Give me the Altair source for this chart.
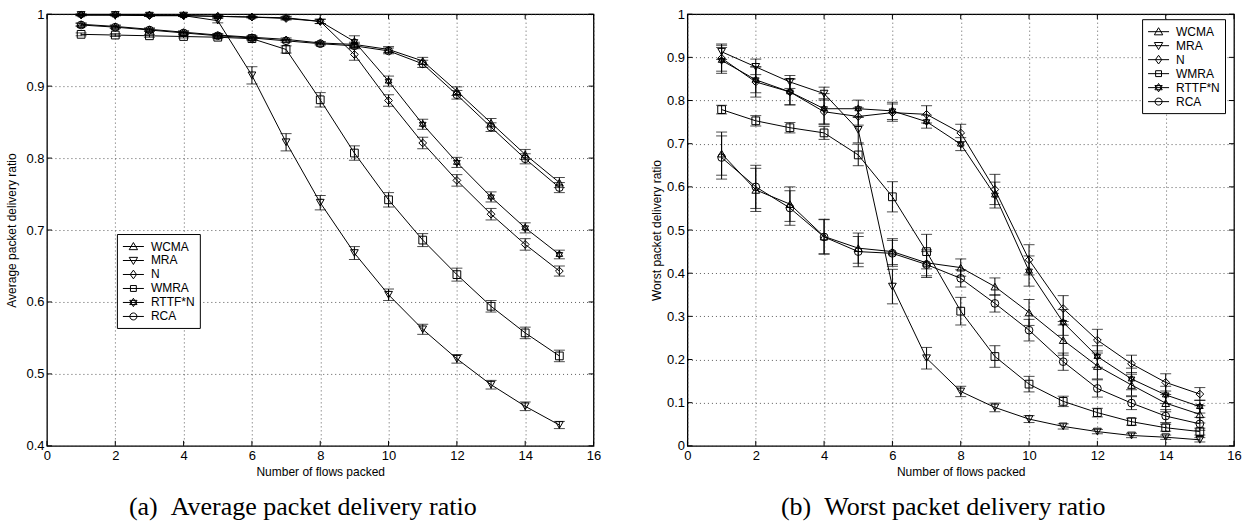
import altair as alt
import pandas as pd

flows = list(range(1, 16))
series_names = ["WCMA", "MRA", "N", "WMRA", "RTTF*N", "RCA"]

# (a) Average packet delivery ratio
avg_wcma = [0.986, 0.983, 0.979, 0.975, 0.971, 0.968, 0.965, 0.960, 0.958, 0.951, 0.935, 0.893, 0.849, 0.805, 0.766]
avg_mra = [0.999, 0.999, 0.998, 0.998, 0.991, 0.915, 0.822, 0.738, 0.668, 0.610, 0.562, 0.521, 0.485, 0.455, 0.429]
avg_n = [0.999, 0.999, 0.998, 0.998, 0.997, 0.996, 0.994, 0.990, 0.944, 0.880, 0.821, 0.769, 0.722, 0.680, 0.643]
avg_wmra = [0.972, 0.971, 0.970, 0.969, 0.968, 0.966, 0.951, 0.881, 0.807, 0.742, 0.686, 0.638, 0.594, 0.557, 0.525]
avg_rttf = [0.999, 0.999, 0.999, 0.998, 0.997, 0.996, 0.995, 0.990, 0.962, 0.907, 0.847, 0.794, 0.746, 0.703, 0.666]
avg_rca = [0.985, 0.982, 0.978, 0.974, 0.970, 0.967, 0.963, 0.959, 0.956, 0.949, 0.931, 0.888, 0.843, 0.799, 0.759]

avg_err_wcma = [0.002, 0.002, 0.002, 0.002, 0.002, 0.002, 0.002, 0.002, 0.003, 0.004, 0.005, 0.006, 0.006, 0.007, 0.007]
avg_err_mra = [0.001, 0.001, 0.001, 0.001, 0.003, 0.012, 0.012, 0.010, 0.009, 0.008, 0.007, 0.006, 0.006, 0.006, 0.005]
avg_err_n = [0.001, 0.001, 0.001, 0.001, 0.001, 0.001, 0.002, 0.003, 0.008, 0.008, 0.008, 0.008, 0.008, 0.008, 0.007]
avg_err_wmra = [0.002, 0.002, 0.002, 0.002, 0.002, 0.002, 0.005, 0.010, 0.010, 0.010, 0.009, 0.009, 0.008, 0.008, 0.008]
avg_err_rttf = [0.001, 0.001, 0.001, 0.001, 0.001, 0.001, 0.002, 0.003, 0.008, 0.007, 0.007, 0.007, 0.007, 0.007, 0.006]
avg_err_rca = [0.002, 0.002, 0.002, 0.002, 0.002, 0.002, 0.002, 0.002, 0.003, 0.004, 0.005, 0.006, 0.006, 0.007, 0.007]

# (b) Worst packet delivery ratio
worst_wcma = [0.677, 0.593, 0.560, 0.485, 0.458, 0.450, 0.424, 0.413, 0.369, 0.309, 0.245, 0.185, 0.141, 0.099, 0.073]
worst_mra = [0.913, 0.878, 0.843, 0.816, 0.732, 0.369, 0.203, 0.126, 0.089, 0.062, 0.045, 0.033, 0.024, 0.020, 0.014]
worst_n = [0.898, 0.843, 0.820, 0.774, 0.763, 0.772, 0.768, 0.725, 0.594, 0.431, 0.318, 0.245, 0.190, 0.147, 0.120]
worst_wmra = [0.779, 0.753, 0.737, 0.725, 0.674, 0.577, 0.450, 0.312, 0.207, 0.143, 0.103, 0.077, 0.056, 0.042, 0.033]
worst_rttf = [0.893, 0.848, 0.820, 0.781, 0.781, 0.776, 0.751, 0.699, 0.581, 0.405, 0.286, 0.207, 0.155, 0.118, 0.091]
worst_rca = [0.668, 0.600, 0.551, 0.484, 0.450, 0.446, 0.420, 0.388, 0.330, 0.268, 0.195, 0.133, 0.099, 0.069, 0.051]

worst_err_wcma = [0.050, 0.050, 0.040, 0.040, 0.035, 0.030, 0.030, 0.020, 0.020, 0.030, 0.035, 0.030, 0.025, 0.020, 0.020]
worst_err_mra = [0.018, 0.018, 0.015, 0.015, 0.030, 0.040, 0.025, 0.012, 0.010, 0.008, 0.006, 0.005, 0.005, 0.005, 0.005]
worst_err_n = [0.030, 0.035, 0.030, 0.030, 0.020, 0.020, 0.020, 0.020, 0.035, 0.035, 0.030, 0.025, 0.020, 0.020, 0.015]
worst_err_wmra = [0.010, 0.012, 0.012, 0.015, 0.025, 0.035, 0.040, 0.032, 0.025, 0.018, 0.012, 0.010, 0.008, 0.008, 0.008]
worst_err_rttf = [0.030, 0.030, 0.030, 0.035, 0.020, 0.020, 0.015, 0.015, 0.030, 0.035, 0.030, 0.025, 0.025, 0.020, 0.015]
worst_err_rca = [0.050, 0.050, 0.040, 0.040, 0.035, 0.030, 0.030, 0.020, 0.020, 0.025, 0.020, 0.020, 0.015, 0.015, 0.015]

x_ticks = [0, 2, 4, 6, 8, 10, 12, 14, 16]
avg_y_ticks = [0.4, 0.5, 0.6, 0.7, 0.8, 0.9, 1.0]
worst_y_ticks = [0.0, 0.1, 0.2, 0.3, 0.4, 0.5, 0.6, 0.7, 0.8, 0.9, 1.0]

caption_a = "(a)\u00a0\u00a0Average packet delivery ratio"
caption_b = "(b)\u00a0\u00a0Worst packet delivery ratio"

W, H = 547, 432
SANS = "Liberation Sans"
SERIF = "Liberation Serif"

HEX = "M0,-1L0.866,0.5L-0.866,0.5ZM0,1L0.866,-0.5L-0.866,-0.5Z"
plot_shapes = {
    "WCMA": "triangle-up",
    "MRA": "triangle-down",
    "N": "diamond",
    "WMRA": "square",
    "RTTF*N": HEX,
    "RCA": "circle",
}
legend_paths = [
    "M-1.5,0H1.5M0,-0.57L0.6,0.45L-0.6,0.45Z",
    "M-1.5,0H1.5M0,0.57L0.6,-0.45L-0.6,-0.45Z",
    "M-1.5,0H1.5M0,-0.62L0.45,0L0,0.62L-0.45,0Z",
    "M-1.5,0H1.5M-0.42,-0.42H0.42V0.42H-0.42Z",
    "M-1.5,0H1.5M0,-0.6L0.52,0.3L-0.52,0.3ZM0,0.6L0.52,-0.3L-0.52,-0.3Z",
    "M-1.5,0H1.5M0.5,0A0.5,0.5 0 1,1 -0.5,0A0.5,0.5 0 1,1 0.5,0",
]


def long_df(vals, errs):
    rows = []
    for name, v, e in zip(series_names, vals, errs):
        for f, yv, ev in zip(flows, v, e):
            rows.append({"flows": f, "value": yv, "lo": yv - ev, "hi": yv + ev, "series": name})
    return pd.DataFrame(rows)


def panel(df, ydomain, yticks, ytitle, title_x, leg_x, leg_y, caption):
    xs = alt.Scale(domain=[0, 16], nice=False, zero=False)
    ys = alt.Scale(domain=ydomain, nice=False, zero=False)
    xax = alt.Axis(values=x_ticks, grid=True, gridDash=[1, 3], gridColor="#333", gridWidth=0.8,
                   domain=False, ticks=False, tickSize=0, labelFont=SANS, labelFontSize=13,
                   labelColor="black", labelPadding=4, titleFont=SANS, titleFontSize=12,
                   titleFontWeight="normal", titleColor="black", titlePadding=4, labelFlush=False)
    yax = alt.Axis(values=yticks, grid=True, gridDash=[1, 3], gridColor="#333", gridWidth=0.8,
                   domain=False, ticks=False, tickSize=0, labelFont=SANS, labelFontSize=13,
                   labelColor="black", labelPadding=3, format="~g", titleFont=SANS, titleFontSize=12,
                   titleFontWeight="normal", titleColor="black", titleX=title_x, titleBaseline="middle",
                   labelFlush=False)
    X = alt.X("flows:Q", scale=xs, axis=xax, title="Number of flows packed")
    Y = alt.Y("value:Q", scale=ys, axis=yax, title=ytitle)
    base = alt.Chart(df)

    lines = base.mark_line(color="black", strokeWidth=1).encode(
        x=X, y=Y, detail="series:N", order="flows:Q")
    bars = base.mark_rule(color="black", strokeWidth=1).encode(
        x=alt.X("flows:Q", scale=xs), y=alt.Y("lo:Q", scale=ys), y2="hi:Q")
    cap_lo = base.mark_tick(orient="horizontal", size=11, thickness=1, color="black").encode(
        x=alt.X("flows:Q", scale=xs), y=alt.Y("lo:Q", scale=ys))
    cap_hi = base.mark_tick(orient="horizontal", size=11, thickness=1, color="black").encode(
        x=alt.X("flows:Q", scale=xs), y=alt.Y("hi:Q", scale=ys))

    pts = []
    for s in series_names:
        pts.append(
            base.transform_filter(alt.datum.series == s)
            .mark_point(shape=plot_shapes[s], size=60, filled=False, color="black", strokeWidth=1, opacity=1)
            .encode(x=alt.X("flows:Q", scale=xs), y=alt.Y("value:Q", scale=ys))
        )

    leg = base.transform_filter("false").mark_point(filled=False, color="black", opacity=1).encode(
        shape=alt.Shape("series:N",
                        scale=alt.Scale(domain=series_names, range=legend_paths),
                        sort=series_names,
                        legend=alt.Legend(orient="none", legendX=leg_x, legendY=leg_y, title=None,
                                          fillColor="white", strokeColor="black", padding=5,
                                          labelFont=SANS, labelFontSize=12, labelColor="black",
                                          labelOffset=10, symbolOffset=4, symbolSize=196,
                                          symbolStrokeColor="black",
                                          symbolFillColor="transparent", symbolStrokeWidth=1,
                                          symbolOpacity=1, rowPadding=0)))

    xt = pd.DataFrame({"flows": x_ticks})
    yt = pd.DataFrame({"value": yticks})
    tick_b = alt.Chart(xt).mark_rule(color="black", strokeWidth=1).encode(
        x=alt.X("flows:Q", scale=xs), y=alt.value(H), y2=alt.value(H - 5))
    tick_t = alt.Chart(xt).mark_rule(color="black", strokeWidth=1).encode(
        x=alt.X("flows:Q", scale=xs), y=alt.value(0), y2=alt.value(5))
    tick_l = alt.Chart(yt).mark_rule(color="black", strokeWidth=1).encode(
        y=alt.Y("value:Q", scale=ys), x=alt.value(0), x2=alt.value(5))
    tick_r = alt.Chart(yt).mark_rule(color="black", strokeWidth=1).encode(
        y=alt.Y("value:Q", scale=ys), x=alt.value(W), x2=alt.value(W - 5))

    cap = alt.Chart(pd.DataFrame({"t": [caption]})).mark_text(
        font=SERIF, fontSize=26, color="black", align="center", baseline="alphabetic").encode(
        text="t:N", x=alt.value(256), y=alt.value(501))

    return alt.layer(lines, bars, cap_lo, cap_hi, *pts, leg, tick_b, tick_t, tick_l, tick_r, cap).properties(
        width=W, height=H)


left = panel(long_df([avg_wcma, avg_mra, avg_n, avg_wmra, avg_rttf, avg_rca],
                     [avg_err_wcma, avg_err_mra, avg_err_n, avg_err_wmra, avg_err_rttf, avg_err_rca]),
             [0.4, 1.0], avg_y_ticks, "Average packet delivery ratio", -35, 70, 220, caption_a)
right = panel(long_df([worst_wcma, worst_mra, worst_n, worst_wmra, worst_rttf, worst_rca],
                      [worst_err_wcma, worst_err_mra, worst_err_n, worst_err_wmra, worst_err_rttf, worst_err_rca]),
              [0.0, 1.0], worst_y_ticks, "Worst packet delivery ratio", -31, 455, 5, caption_b)

chart = alt.hconcat(left, right, spacing=94, bounds="flush").resolve_scale(
    shape="independent").resolve_legend(shape="independent").properties(
    padding={"left": 5, "top": 7, "right": 0, "bottom": 0}, background="white"
).configure_view(stroke="black", strokeWidth=1.3)

chart.save("out.html", embed_options={"renderer": "svg", "actions": False})
